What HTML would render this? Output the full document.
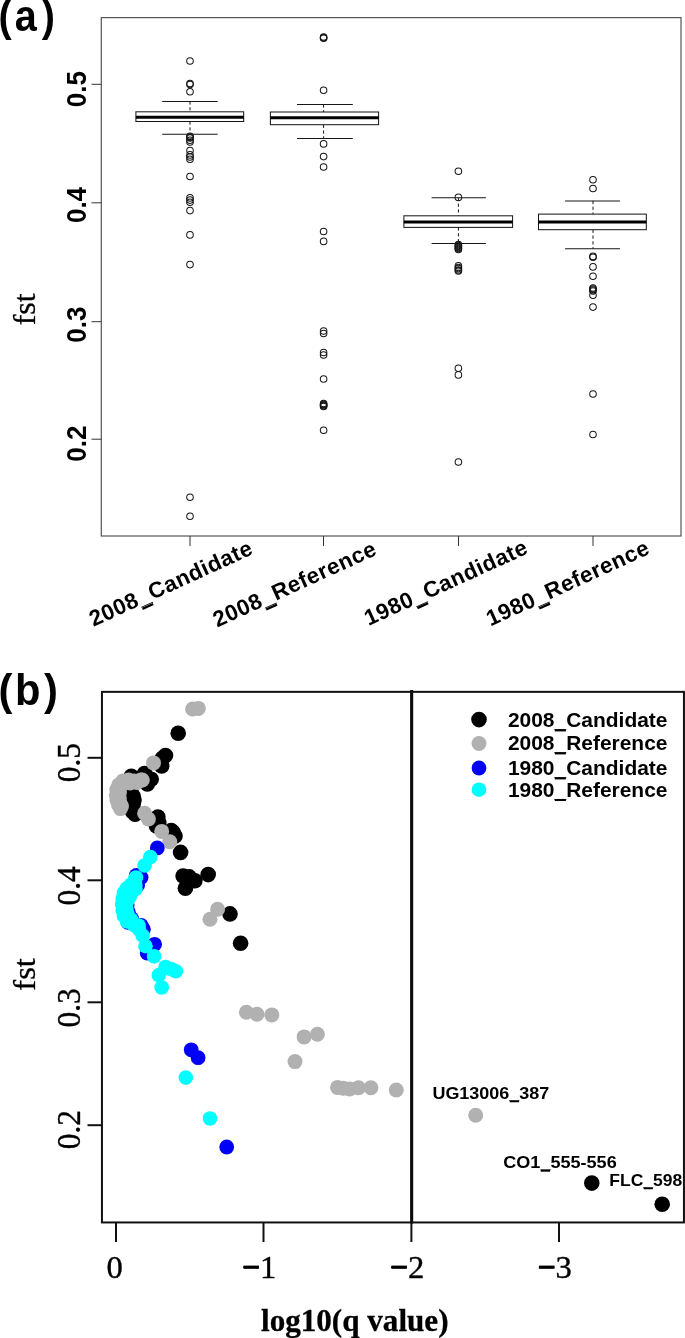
<!DOCTYPE html>
<html><head><meta charset="utf-8"><title>fst boxplot and outlier scan</title>
<style>html,body{margin:0;padding:0;background:#fff;overflow:hidden}svg{display:block}.sb{font-family:"Liberation Sans",Arial,Helvetica,sans-serif;font-weight:bold;fill:#000}.sr{font-family:"Liberation Serif","Times New Roman",Times,serif;fill:#000}</style></head><body>
<svg width="685" height="1338" viewBox="0 0 685 1338">
<rect x="0" y="0" width="685" height="1338" fill="#fff"/>
<g id="panelA">
<text class="sb" font-size="44" transform="translate(0,30.9) scale(0.9,1)"><tspan x="-1.56">(</tspan><tspan x="16.33">a</tspan><tspan x="46.44">)</tspan></text>
<rect x="101.3" y="17.6" width="579.7" height="518.4" fill="none" stroke="#555" stroke-width="1.2"/>
<line x1="91.5" y1="84.3" x2="101.3" y2="84.3" stroke="#333" stroke-width="1"/>
<text class="sb" font-size="26" text-anchor="middle" transform="translate(86.3,89.1) rotate(-90) scale(1,1.03)">0.5</text>
<line x1="91.5" y1="202.8" x2="101.3" y2="202.8" stroke="#333" stroke-width="1"/>
<text class="sb" font-size="26" text-anchor="middle" transform="translate(86.3,205) rotate(-90) scale(1,1.03)">0.4</text>
<line x1="91.5" y1="321.7" x2="101.3" y2="321.7" stroke="#333" stroke-width="1"/>
<text class="sb" font-size="26" text-anchor="middle" transform="translate(86.3,324.7) rotate(-90) scale(1,1.03)">0.3</text>
<line x1="91.5" y1="439.2" x2="101.3" y2="439.2" stroke="#333" stroke-width="1"/>
<text class="sb" font-size="26" text-anchor="middle" transform="translate(86.3,443.7) rotate(-90) scale(1,1.03)">0.2</text>
<text class="sr" font-size="32" text-anchor="middle" stroke="#000" stroke-width="0.3" transform="translate(35,309.3) rotate(-90)">fst</text>
<line x1="190" y1="536.0" x2="190" y2="546.0" stroke="#333" stroke-width="1"/>
<line x1="323.5" y1="536.0" x2="323.5" y2="546.0" stroke="#333" stroke-width="1"/>
<line x1="458.5" y1="536.0" x2="458.5" y2="546.0" stroke="#333" stroke-width="1"/>
<line x1="593" y1="536.0" x2="593" y2="546.0" stroke="#333" stroke-width="1"/>
<text class="sb" font-size="22.3" textLength="176.3" lengthAdjust="spacing" transform="translate(93.59,626.76) rotate(-24.5)">2008_Candidate</text>
<rect x="51.90" y="2.79" width="11.81" height="2.34" fill="#000" transform="translate(93.59,626.76) rotate(-24.5)"/>
<text class="sb" font-size="22.3" textLength="176.3" lengthAdjust="spacing" transform="translate(217.34,627.46) rotate(-24.5)">2008_Reference</text>
<rect x="51.89" y="2.79" width="11.81" height="2.34" fill="#000" transform="translate(217.34,627.46) rotate(-24.5)"/>
<text class="sb" font-size="22.3" textLength="176.3" lengthAdjust="spacing" transform="translate(368.54,626.06) rotate(-24.5)">1980_Candidate</text>
<rect x="51.90" y="2.79" width="11.81" height="2.34" fill="#000" transform="translate(368.54,626.06) rotate(-24.5)"/>
<text class="sb" font-size="22.3" textLength="176.3" lengthAdjust="spacing" transform="translate(490.44,626.46) rotate(-24.5)">1980_Reference</text>
<rect x="51.89" y="2.79" width="11.81" height="2.34" fill="#000" transform="translate(490.44,626.46) rotate(-24.5)"/>
<line x1="190" y1="101.4" x2="190" y2="111.8" stroke="#161616" stroke-width="1" stroke-dasharray="3.2 2.6"/>
<line x1="190" y1="121.5" x2="190" y2="134.3" stroke="#161616" stroke-width="1" stroke-dasharray="3.2 2.6"/>
<line x1="162.2" y1="101.4" x2="217.70000000000002" y2="101.4" stroke="#161616" stroke-width="1.02"/>
<line x1="162.2" y1="134.3" x2="217.70000000000002" y2="134.3" stroke="#161616" stroke-width="1.02"/>
<rect x="135.9" y="111.8" width="107.8" height="9.7" fill="#fff" stroke="#161616" stroke-width="1.02"/>
<line x1="135.9" y1="117.3" x2="243.7" y2="117.3" stroke="#000" stroke-width="3"/>
<circle cx="190" cy="61" r="3.3" fill="none" stroke="#161616" stroke-width="1.02"/>
<circle cx="190" cy="83.5" r="3.3" fill="none" stroke="#161616" stroke-width="1.02"/>
<circle cx="190" cy="84.5" r="3.3" fill="none" stroke="#161616" stroke-width="1.02"/>
<circle cx="190" cy="91.7" r="3.3" fill="none" stroke="#161616" stroke-width="1.02"/>
<circle cx="190" cy="136.3" r="3.3" fill="none" stroke="#161616" stroke-width="1.02"/>
<circle cx="190" cy="137.2" r="3.3" fill="none" stroke="#161616" stroke-width="1.02"/>
<circle cx="190" cy="138" r="3.3" fill="none" stroke="#161616" stroke-width="1.02"/>
<circle cx="190" cy="140.3" r="3.3" fill="none" stroke="#161616" stroke-width="1.02"/>
<circle cx="190" cy="142" r="3.3" fill="none" stroke="#161616" stroke-width="1.02"/>
<circle cx="190" cy="150.5" r="3.3" fill="none" stroke="#161616" stroke-width="1.02"/>
<circle cx="190" cy="154.9" r="3.3" fill="none" stroke="#161616" stroke-width="1.02"/>
<circle cx="190" cy="157" r="3.3" fill="none" stroke="#161616" stroke-width="1.02"/>
<circle cx="190" cy="159.2" r="3.3" fill="none" stroke="#161616" stroke-width="1.02"/>
<circle cx="190" cy="176.5" r="3.3" fill="none" stroke="#161616" stroke-width="1.02"/>
<circle cx="190" cy="197.9" r="3.3" fill="none" stroke="#161616" stroke-width="1.02"/>
<circle cx="190" cy="200.1" r="3.3" fill="none" stroke="#161616" stroke-width="1.02"/>
<circle cx="190" cy="202.3" r="3.3" fill="none" stroke="#161616" stroke-width="1.02"/>
<circle cx="190" cy="210.6" r="3.3" fill="none" stroke="#161616" stroke-width="1.02"/>
<circle cx="190" cy="234.9" r="3.3" fill="none" stroke="#161616" stroke-width="1.02"/>
<circle cx="190" cy="264.6" r="3.3" fill="none" stroke="#161616" stroke-width="1.02"/>
<circle cx="190" cy="497.3" r="3.3" fill="none" stroke="#161616" stroke-width="1.02"/>
<circle cx="190" cy="516.2" r="3.3" fill="none" stroke="#161616" stroke-width="1.02"/>
<line x1="323.6" y1="104.4" x2="323.6" y2="112.0" stroke="#161616" stroke-width="1" stroke-dasharray="3.2 2.6"/>
<line x1="323.6" y1="124.7" x2="323.6" y2="138.6" stroke="#161616" stroke-width="1" stroke-dasharray="3.2 2.6"/>
<line x1="297" y1="104.4" x2="352.8" y2="104.4" stroke="#161616" stroke-width="1.02"/>
<line x1="297" y1="138.6" x2="352.8" y2="138.6" stroke="#161616" stroke-width="1.02"/>
<rect x="270.4" y="112.0" width="108.2" height="12.7" fill="#fff" stroke="#161616" stroke-width="1.02"/>
<line x1="270.4" y1="117.7" x2="378.6" y2="117.7" stroke="#000" stroke-width="3"/>
<circle cx="323.6" cy="37" r="3.3" fill="none" stroke="#161616" stroke-width="1.02"/>
<circle cx="323.6" cy="37.8" r="3.3" fill="none" stroke="#161616" stroke-width="1.02"/>
<circle cx="323.6" cy="38.3" r="3.3" fill="none" stroke="#161616" stroke-width="1.02"/>
<circle cx="323.6" cy="90.2" r="3.3" fill="none" stroke="#161616" stroke-width="1.02"/>
<circle cx="323.6" cy="143.9" r="3.3" fill="none" stroke="#161616" stroke-width="1.02"/>
<circle cx="323.6" cy="156.6" r="3.3" fill="none" stroke="#161616" stroke-width="1.02"/>
<circle cx="323.6" cy="167" r="3.3" fill="none" stroke="#161616" stroke-width="1.02"/>
<circle cx="323.6" cy="231.5" r="3.3" fill="none" stroke="#161616" stroke-width="1.02"/>
<circle cx="323.6" cy="241.4" r="3.3" fill="none" stroke="#161616" stroke-width="1.02"/>
<circle cx="323.6" cy="331" r="3.3" fill="none" stroke="#161616" stroke-width="1.02"/>
<circle cx="323.6" cy="333.5" r="3.3" fill="none" stroke="#161616" stroke-width="1.02"/>
<circle cx="323.6" cy="352.5" r="3.3" fill="none" stroke="#161616" stroke-width="1.02"/>
<circle cx="323.6" cy="355" r="3.3" fill="none" stroke="#161616" stroke-width="1.02"/>
<circle cx="323.6" cy="379" r="3.3" fill="none" stroke="#161616" stroke-width="1.02"/>
<circle cx="323.6" cy="403.5" r="3.3" fill="none" stroke="#161616" stroke-width="1.02"/>
<circle cx="323.6" cy="404.3" r="3.3" fill="none" stroke="#161616" stroke-width="1.02"/>
<circle cx="323.6" cy="405" r="3.3" fill="none" stroke="#161616" stroke-width="1.02"/>
<circle cx="323.6" cy="405.8" r="3.3" fill="none" stroke="#161616" stroke-width="1.02"/>
<circle cx="323.6" cy="406.5" r="3.3" fill="none" stroke="#161616" stroke-width="1.02"/>
<circle cx="323.6" cy="430.2" r="3.3" fill="none" stroke="#161616" stroke-width="1.02"/>
<line x1="458.4" y1="197.8" x2="458.4" y2="215.8" stroke="#161616" stroke-width="1" stroke-dasharray="3.2 2.6"/>
<line x1="458.4" y1="227.4" x2="458.4" y2="243.4" stroke="#161616" stroke-width="1" stroke-dasharray="3.2 2.6"/>
<line x1="431.6" y1="197.8" x2="485.90000000000003" y2="197.8" stroke="#161616" stroke-width="1.02"/>
<line x1="431.6" y1="243.4" x2="485.90000000000003" y2="243.4" stroke="#161616" stroke-width="1.02"/>
<rect x="403.9" y="215.8" width="108.7" height="11.6" fill="#fff" stroke="#161616" stroke-width="1.02"/>
<line x1="403.9" y1="222.1" x2="512.6" y2="222.1" stroke="#000" stroke-width="3"/>
<circle cx="458.4" cy="171.3" r="3.3" fill="none" stroke="#161616" stroke-width="1.02"/>
<circle cx="458.4" cy="197.4" r="3.3" fill="none" stroke="#161616" stroke-width="1.02"/>
<circle cx="458.4" cy="244.5" r="3.3" fill="none" stroke="#161616" stroke-width="1.02"/>
<circle cx="458.4" cy="245.5" r="3.3" fill="none" stroke="#161616" stroke-width="1.02"/>
<circle cx="458.4" cy="246.5" r="3.3" fill="none" stroke="#161616" stroke-width="1.02"/>
<circle cx="458.4" cy="247.5" r="3.3" fill="none" stroke="#161616" stroke-width="1.02"/>
<circle cx="458.4" cy="248.5" r="3.3" fill="none" stroke="#161616" stroke-width="1.02"/>
<circle cx="458.4" cy="249.5" r="3.3" fill="none" stroke="#161616" stroke-width="1.02"/>
<circle cx="458.4" cy="265.7" r="3.3" fill="none" stroke="#161616" stroke-width="1.02"/>
<circle cx="458.4" cy="267.5" r="3.3" fill="none" stroke="#161616" stroke-width="1.02"/>
<circle cx="458.4" cy="268.6" r="3.3" fill="none" stroke="#161616" stroke-width="1.02"/>
<circle cx="458.4" cy="270" r="3.3" fill="none" stroke="#161616" stroke-width="1.02"/>
<circle cx="458.4" cy="270.9" r="3.3" fill="none" stroke="#161616" stroke-width="1.02"/>
<circle cx="458.4" cy="368.2" r="3.3" fill="none" stroke="#161616" stroke-width="1.02"/>
<circle cx="458.4" cy="374.9" r="3.3" fill="none" stroke="#161616" stroke-width="1.02"/>
<circle cx="458.4" cy="462" r="3.3" fill="none" stroke="#161616" stroke-width="1.02"/>
<line x1="593" y1="200.9" x2="593" y2="214.1" stroke="#161616" stroke-width="1" stroke-dasharray="3.2 2.6"/>
<line x1="593" y1="229.7" x2="593" y2="248.7" stroke="#161616" stroke-width="1" stroke-dasharray="3.2 2.6"/>
<line x1="565.1" y1="200.9" x2="620.0" y2="200.9" stroke="#161616" stroke-width="1.02"/>
<line x1="565.1" y1="248.7" x2="620.0" y2="248.7" stroke="#161616" stroke-width="1.02"/>
<rect x="538.5" y="214.1" width="107.8" height="15.6" fill="#fff" stroke="#161616" stroke-width="1.02"/>
<line x1="538.5" y1="222.1" x2="646.3" y2="222.1" stroke="#000" stroke-width="3"/>
<circle cx="593" cy="179.8" r="3.3" fill="none" stroke="#161616" stroke-width="1.02"/>
<circle cx="593" cy="188.5" r="3.3" fill="none" stroke="#161616" stroke-width="1.02"/>
<circle cx="593" cy="256.4" r="3.3" fill="none" stroke="#161616" stroke-width="1.02"/>
<circle cx="593" cy="257.2" r="3.3" fill="none" stroke="#161616" stroke-width="1.02"/>
<circle cx="593" cy="266.9" r="3.3" fill="none" stroke="#161616" stroke-width="1.02"/>
<circle cx="593" cy="276.2" r="3.3" fill="none" stroke="#161616" stroke-width="1.02"/>
<circle cx="593" cy="288" r="3.3" fill="none" stroke="#161616" stroke-width="1.02"/>
<circle cx="593" cy="289" r="3.3" fill="none" stroke="#161616" stroke-width="1.02"/>
<circle cx="593" cy="290" r="3.3" fill="none" stroke="#161616" stroke-width="1.02"/>
<circle cx="593" cy="291" r="3.3" fill="none" stroke="#161616" stroke-width="1.02"/>
<circle cx="593" cy="295.2" r="3.3" fill="none" stroke="#161616" stroke-width="1.02"/>
<circle cx="593" cy="307.1" r="3.3" fill="none" stroke="#161616" stroke-width="1.02"/>
<circle cx="593" cy="394" r="3.3" fill="none" stroke="#161616" stroke-width="1.02"/>
<circle cx="593" cy="434.5" r="3.3" fill="none" stroke="#161616" stroke-width="1.02"/>
</g>
<g id="panelB">
<text class="sb" font-size="44" transform="translate(0,705) scale(0.95,1)"><tspan x="-1.58">(</tspan><tspan x="15.68">b</tspan><tspan x="46.21">)</tspan></text>
<circle cx="178.2" cy="733.3" r="7.8" fill="#000"/>
<circle cx="165.5" cy="755.5" r="7.8" fill="#000"/>
<circle cx="161.7" cy="765.9" r="7.8" fill="#000"/>
<circle cx="144.6" cy="773.5" r="7.8" fill="#000"/>
<circle cx="131.3" cy="776.3" r="7.8" fill="#000"/>
<circle cx="151.2" cy="779.2" r="7.8" fill="#000"/>
<circle cx="147.4" cy="783.9" r="7.8" fill="#000"/>
<circle cx="133.2" cy="796.3" r="7.8" fill="#000"/>
<circle cx="133.2" cy="803.9" r="7.8" fill="#000"/>
<circle cx="132.3" cy="811.4" r="7.8" fill="#000"/>
<circle cx="135.1" cy="814.3" r="7.8" fill="#000"/>
<circle cx="157.9" cy="817.1" r="7.8" fill="#000"/>
<circle cx="158.8" cy="822.8" r="7.8" fill="#000"/>
<circle cx="173.1" cy="832.3" r="7.8" fill="#000"/>
<circle cx="175" cy="836.1" r="7.8" fill="#000"/>
<circle cx="180.6" cy="852.4" r="7.8" fill="#000"/>
<circle cx="183.1" cy="876" r="7.8" fill="#000"/>
<circle cx="189.2" cy="876.9" r="7.8" fill="#000"/>
<circle cx="194.9" cy="880.7" r="7.8" fill="#000"/>
<circle cx="208.2" cy="874.6" r="7.8" fill="#000"/>
<circle cx="185.4" cy="888.3" r="7.8" fill="#000"/>
<circle cx="230" cy="913.9" r="7.8" fill="#000"/>
<circle cx="240.6" cy="943.2" r="7.8" fill="#000"/>
<circle cx="591.8" cy="1183.1" r="7.8" fill="#000"/>
<circle cx="662.2" cy="1204.3" r="7.8" fill="#000"/>
<circle cx="138" cy="779" r="7.8" fill="#000"/>
<circle cx="127" cy="783" r="7.8" fill="#000"/>
<circle cx="125" cy="800" r="7.8" fill="#000"/>
<circle cx="131" cy="792" r="7.8" fill="#000"/>
<circle cx="130" cy="806" r="7.8" fill="#000"/>
<circle cx="162.2" cy="758.4" r="7.8" fill="#000"/>
<circle cx="156.5" cy="826" r="7.8" fill="#000"/>
<circle cx="171.2" cy="830.5" r="7.8" fill="#000"/>
<circle cx="134" cy="800" r="7.8" fill="#000"/>
<circle cx="192.6" cy="709" r="7.5" fill="#b1b1b1"/>
<circle cx="198.3" cy="708.4" r="7.5" fill="#b1b1b1"/>
<circle cx="153.5" cy="762.9" r="7.5" fill="#b1b1b1"/>
<circle cx="140.8" cy="780.1" r="7.5" fill="#b1b1b1"/>
<circle cx="134.2" cy="781" r="7.5" fill="#b1b1b1"/>
<circle cx="128.5" cy="780" r="7.5" fill="#b1b1b1"/>
<circle cx="122.8" cy="781" r="7.5" fill="#b1b1b1"/>
<circle cx="118.9" cy="784.9" r="7.5" fill="#b1b1b1"/>
<circle cx="116.8" cy="789.6" r="7.5" fill="#b1b1b1"/>
<circle cx="116.4" cy="795.3" r="7.5" fill="#b1b1b1"/>
<circle cx="117" cy="800" r="7.5" fill="#b1b1b1"/>
<circle cx="118.5" cy="804.8" r="7.5" fill="#b1b1b1"/>
<circle cx="120.5" cy="808.6" r="7.5" fill="#b1b1b1"/>
<circle cx="120.5" cy="786" r="7.5" fill="#b1b1b1"/>
<circle cx="119.5" cy="792" r="7.5" fill="#b1b1b1"/>
<circle cx="119.3" cy="798" r="7.5" fill="#b1b1b1"/>
<circle cx="120" cy="803" r="7.5" fill="#b1b1b1"/>
<circle cx="121.5" cy="806" r="7.5" fill="#b1b1b1"/>
<circle cx="130" cy="783" r="7.5" fill="#b1b1b1"/>
<circle cx="137" cy="782.5" r="7.5" fill="#b1b1b1"/>
<circle cx="142.3" cy="780" r="7.5" fill="#b1b1b1"/>
<circle cx="144.6" cy="813.3" r="7.5" fill="#b1b1b1"/>
<circle cx="148.4" cy="819" r="7.5" fill="#b1b1b1"/>
<circle cx="161.7" cy="831.4" r="7.5" fill="#b1b1b1"/>
<circle cx="169.8" cy="841.8" r="7.5" fill="#b1b1b1"/>
<circle cx="217.6" cy="909.2" r="7.5" fill="#b1b1b1"/>
<circle cx="210" cy="919.2" r="7.5" fill="#b1b1b1"/>
<circle cx="246.4" cy="1012.3" r="7.5" fill="#b1b1b1"/>
<circle cx="257" cy="1014.2" r="7.5" fill="#b1b1b1"/>
<circle cx="271.8" cy="1014.9" r="7.5" fill="#b1b1b1"/>
<circle cx="304.1" cy="1036.9" r="7.5" fill="#b1b1b1"/>
<circle cx="317.4" cy="1034.3" r="7.5" fill="#b1b1b1"/>
<circle cx="295" cy="1061.6" r="7.5" fill="#b1b1b1"/>
<circle cx="337.5" cy="1087.4" r="7.5" fill="#b1b1b1"/>
<circle cx="343.2" cy="1088.2" r="7.5" fill="#b1b1b1"/>
<circle cx="349.6" cy="1088.9" r="7.5" fill="#b1b1b1"/>
<circle cx="358.4" cy="1087.8" r="7.5" fill="#b1b1b1"/>
<circle cx="370.9" cy="1087.8" r="7.5" fill="#b1b1b1"/>
<circle cx="396.3" cy="1090" r="7.5" fill="#b1b1b1"/>
<circle cx="475.7" cy="1115.3" r="7.5" fill="#b1b1b1"/>
<circle cx="157.3" cy="847.9" r="7.4" fill="#0000f8"/>
<circle cx="141.1" cy="877.6" r="7.4" fill="#0000f8"/>
<circle cx="136.3" cy="875.4" r="7.4" fill="#0000f8"/>
<circle cx="137.6" cy="885.2" r="7.4" fill="#0000f8"/>
<circle cx="127.6" cy="897" r="7.4" fill="#0000f8"/>
<circle cx="127.2" cy="905" r="7.4" fill="#0000f8"/>
<circle cx="128.3" cy="912" r="7.4" fill="#0000f8"/>
<circle cx="131.5" cy="918.5" r="7.4" fill="#0000f8"/>
<circle cx="141.2" cy="925.4" r="7.4" fill="#0000f8"/>
<circle cx="143.4" cy="929.2" r="7.4" fill="#0000f8"/>
<circle cx="154.6" cy="944.3" r="7.4" fill="#0000f8"/>
<circle cx="147.2" cy="953" r="7.4" fill="#0000f8"/>
<circle cx="191.2" cy="1049.8" r="7.4" fill="#0000f8"/>
<circle cx="198.1" cy="1057.7" r="7.4" fill="#0000f8"/>
<circle cx="226.7" cy="1147" r="7.4" fill="#0000f8"/>
<circle cx="127.8" cy="922.3" r="7.4" fill="#0000f8"/>
<circle cx="150.3" cy="857" r="7.3" fill="#00ffff"/>
<circle cx="144.6" cy="865.5" r="7.3" fill="#00ffff"/>
<circle cx="135.1" cy="878.8" r="7.3" fill="#00ffff"/>
<circle cx="131.3" cy="884.5" r="7.3" fill="#00ffff"/>
<circle cx="126.8" cy="888.3" r="7.3" fill="#00ffff"/>
<circle cx="123.9" cy="893" r="7.3" fill="#00ffff"/>
<circle cx="122.7" cy="898.7" r="7.3" fill="#00ffff"/>
<circle cx="122.2" cy="904.4" r="7.3" fill="#00ffff"/>
<circle cx="122.7" cy="910.1" r="7.3" fill="#00ffff"/>
<circle cx="123.9" cy="915.8" r="7.3" fill="#00ffff"/>
<circle cx="127" cy="921.5" r="7.3" fill="#00ffff"/>
<circle cx="134.2" cy="925.3" r="7.3" fill="#00ffff"/>
<circle cx="138.9" cy="929.1" r="7.3" fill="#00ffff"/>
<circle cx="142.7" cy="935.7" r="7.3" fill="#00ffff"/>
<circle cx="145.5" cy="946.2" r="7.3" fill="#00ffff"/>
<circle cx="154.1" cy="956.4" r="7.3" fill="#00ffff"/>
<circle cx="136" cy="877.5" r="7.3" fill="#00ffff"/>
<circle cx="135.3" cy="885" r="7.3" fill="#00ffff"/>
<circle cx="135.5" cy="889" r="7.3" fill="#00ffff"/>
<circle cx="133" cy="890" r="7.3" fill="#00ffff"/>
<circle cx="130" cy="896" r="7.3" fill="#00ffff"/>
<circle cx="126.5" cy="903" r="7.3" fill="#00ffff"/>
<circle cx="126.3" cy="909" r="7.3" fill="#00ffff"/>
<circle cx="127.5" cy="914" r="7.3" fill="#00ffff"/>
<circle cx="131" cy="919.5" r="7.3" fill="#00ffff"/>
<circle cx="138.5" cy="925.5" r="7.3" fill="#00ffff"/>
<circle cx="128" cy="899" r="7.3" fill="#00ffff"/>
<circle cx="165.5" cy="967" r="7.3" fill="#00ffff"/>
<circle cx="171.2" cy="969" r="7.3" fill="#00ffff"/>
<circle cx="175.9" cy="971.3" r="7.3" fill="#00ffff"/>
<circle cx="158.8" cy="975.1" r="7.3" fill="#00ffff"/>
<circle cx="161.7" cy="987.5" r="7.3" fill="#00ffff"/>
<circle cx="185.8" cy="1077.6" r="7.3" fill="#00ffff"/>
<circle cx="210" cy="1118.5" r="7.3" fill="#00ffff"/>
<line x1="411.65" y1="689.9" x2="411.65" y2="1223.5" stroke="#0a0a0a" stroke-width="3.1"/>
<rect x="101.95" y="691.85" width="582.0" height="530.6" fill="none" stroke="#111" stroke-width="2"/>
<line x1="87.5" y1="757.8" x2="101.95" y2="757.8" stroke="#111" stroke-width="2"/>
<text class="sr" font-size="32" text-anchor="middle" stroke="#000" stroke-width="0.35" transform="translate(79.8,762.7) rotate(-90) scale(0.98,1.07)">0.5</text>
<line x1="87.5" y1="880.3" x2="101.95" y2="880.3" stroke="#111" stroke-width="2"/>
<text class="sr" font-size="32" text-anchor="middle" stroke="#000" stroke-width="0.35" transform="translate(79.8,885.8) rotate(-90) scale(0.98,1.07)">0.4</text>
<line x1="87.5" y1="1002.3" x2="101.95" y2="1002.3" stroke="#111" stroke-width="2"/>
<text class="sr" font-size="32" text-anchor="middle" stroke="#000" stroke-width="0.35" transform="translate(79.8,1007.8) rotate(-90) scale(0.98,1.07)">0.3</text>
<line x1="87.5" y1="1125.2" x2="101.95" y2="1125.2" stroke="#111" stroke-width="2"/>
<text class="sr" font-size="32" text-anchor="middle" stroke="#000" stroke-width="0.35" transform="translate(79.8,1129.6) rotate(-90) scale(0.98,1.07)">0.2</text>
<text class="sr" font-size="32.5" text-anchor="middle" stroke="#000" stroke-width="0.3" transform="translate(35.2,974.4) rotate(-90)">fst</text>
<line x1="116" y1="1222.5" x2="116" y2="1242.0" stroke="#111" stroke-width="2"/>
<text class="sr" font-size="32.6" text-anchor="middle" stroke="#000" stroke-width="0.4" x="114.7" y="1278.3">0</text>
<line x1="263.5" y1="1222.5" x2="263.5" y2="1242.0" stroke="#111" stroke-width="2"/>
<text class="sr" font-size="32.6" text-anchor="middle" stroke="#000" stroke-width="0.4" x="259.0" y="1278.3">−1</text>
<rect x="243.6" y="1265.6" width="15.3" height="3.2" fill="#000"/>
<line x1="411.4" y1="1222.5" x2="411.4" y2="1242.0" stroke="#111" stroke-width="2"/>
<text class="sr" font-size="32.6" text-anchor="middle" stroke="#000" stroke-width="0.4" x="406.9" y="1278.3">−2</text>
<rect x="391.5" y="1265.6" width="15.3" height="3.2" fill="#000"/>
<line x1="559" y1="1222.5" x2="559" y2="1242.0" stroke="#111" stroke-width="2"/>
<text class="sr" font-size="32.6" text-anchor="middle" stroke="#000" stroke-width="0.4" x="554.5" y="1278.3">−3</text>
<rect x="539.1" y="1265.6" width="15.3" height="3.2" fill="#000"/>
<text class="sr" font-size="31.3" font-weight="bold" stroke="#000" stroke-width="0.3" x="261" y="1330.6" textLength="187.5" lengthAdjust="spacingAndGlyphs">log10(q value)</text>
<circle cx="479.0" cy="719.6" r="7.8" fill="#000"/>
<text class="sb" font-size="19.6" x="507.9" y="726.9" textLength="159.6" lengthAdjust="spacingAndGlyphs">2008_Candidate</text>
<rect x="554.81" y="729.35" width="11.08" height="2.06" fill="#000"/>
<circle cx="479.0" cy="743.5" r="7.5" fill="#b1b1b1"/>
<text class="sb" font-size="19.6" x="507.9" y="749.9" textLength="159.6" lengthAdjust="spacingAndGlyphs">2008_Reference</text>
<rect x="554.80" y="752.35" width="11.08" height="2.06" fill="#000"/>
<circle cx="479.0" cy="768.0" r="7.4" fill="#0000f8"/>
<text class="sb" font-size="19.6" x="507.9" y="774.9" textLength="159.6" lengthAdjust="spacingAndGlyphs">1980_Candidate</text>
<rect x="554.81" y="777.35" width="11.08" height="2.06" fill="#000"/>
<circle cx="479.0" cy="789.7" r="7.3" fill="#00ffff"/>
<text class="sb" font-size="19.6" x="507.9" y="796.5" textLength="159.6" lengthAdjust="spacingAndGlyphs">1980_Reference</text>
<rect x="554.80" y="798.95" width="11.08" height="2.06" fill="#000"/>
<text class="sb" font-size="16.4" x="432.4" y="1098.9" textLength="117" lengthAdjust="spacingAndGlyphs">UG13006_387</text>
<rect x="509.67" y="1100.54" width="9.41" height="1.72" fill="#000"/>
<text class="sb" font-size="16.4" x="503.3" y="1168.3" textLength="113.4" lengthAdjust="spacingAndGlyphs">CO1_555-556</text>
<rect x="540.69" y="1169.94" width="9.47" height="1.72" fill="#000"/>
<text class="sb" font-size="16.4" x="609.3" y="1185.9" textLength="73.0" lengthAdjust="spacingAndGlyphs">FLC_598</text>
<rect x="643.64" y="1187.54" width="9.15" height="1.72" fill="#000"/>
</g>
</svg></body></html>
